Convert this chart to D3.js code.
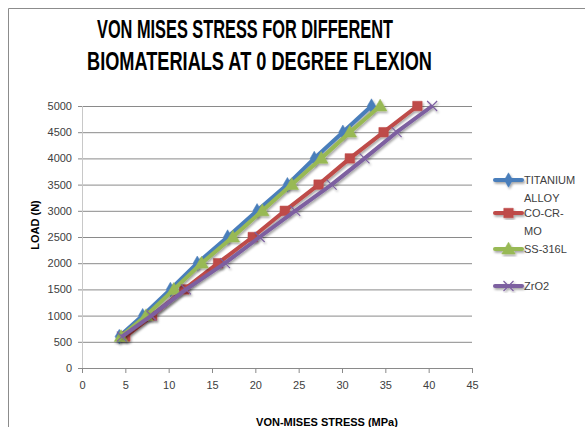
<!DOCTYPE html>
<html><head><meta charset="utf-8">
<script src="https://cdn.jsdelivr.net/npm/d3@7/dist/d3.min.js"></script>
<style>body{margin:0;background:#fff}svg{display:block}</style>
</head><body>
<script>
const loads = [600, 1000, 1500, 2000, 2500, 3000, 3500, 4000, 4500, 5000];
const titanium = [4.3, 7.0, 10.2, 13.3, 16.8, 20.2, 23.7, 26.8, 30.1, 33.4];
const cocrmo   = [5.0, 8.1, 11.8, 15.7, 19.7, 23.4, 27.3, 30.9, 34.8, 38.7];
const ss316l   = [4.5, 7.4, 10.6, 13.8, 17.4, 20.8, 24.2, 27.6, 30.9, 34.4];
const zro2     = [4.6, 8.0, 12.0, 16.5, 20.5, 24.6, 28.8, 32.6, 36.3, 40.4];
const seriesNames = [["TITANIUM","ALLOY"],["CO-CR-","MO"],["SS-316L"],["ZrO2"]];
const xTicks = [0,5,10,15,20,25,30,35,40,45];
const yTicks = [0,500,1000,1500,2000,2500,3000,3500,4000,4500,5000];
const titleLines = ["VON MISES STRESS FOR DIFFERENT","BIOMATERIALS AT 0 DEGREE FLEXION"];

const W=585,H=427;
const svg=d3.select("body").append("svg").attr("width",W).attr("height",H);
const defs=svg.append("defs");
const f=defs.append("filter").attr("id","sh").attr("x","-20%").attr("y","-20%").attr("width","140%").attr("height","140%");
f.append("feDropShadow").attr("dx",1.2).attr("dy",1.8).attr("stdDeviation",1.2).attr("flood-color","#000").attr("flood-opacity",0.35);

// outer frame
svg.append("path").attr("d","M8.5,430 V8.5 H590").attr("fill","none").attr("stroke","#8c8c8c").attr("stroke-width",1);

const x=d3.scaleLinear().domain([0,45]).range([82,472]);
const y=d3.scaleLinear().domain([0,5000]).range([368,106]);

// gridlines
const gy=svg.append("g").attr("transform","translate(82,0)")
  .call(d3.axisLeft(y).tickValues(yTicks).tickSize(-390).tickSizeOuter(0).tickPadding(9).tickFormat(d3.format("d")));
gy.select(".domain").remove();
gy.selectAll(".tick line").attr("stroke","#8a8a8a").attr("x2",390).attr("x1",-4);
gy.selectAll(".tick text").attr("font-family","Liberation Sans, Arial, sans-serif").attr("font-size",11).attr("fill","#404040").attr("x",-10);
svg.append("line").attr("x1",82.5).attr("x2",82.5).attr("y1",106).attr("y2",368).attr("stroke","#c8c8c8");

const gx=svg.append("g").attr("transform","translate(0,368)")
  .call(d3.axisBottom(x).tickValues(xTicks).tickSize(5).tickSizeOuter(0).tickPadding(8));
gx.select(".domain").attr("stroke","#8a8a8a");
gx.selectAll(".tick line").attr("stroke","#8a8a8a");
gx.selectAll(".tick text").attr("font-family","Liberation Sans, Arial, sans-serif").attr("font-size",11).attr("fill","#404040");

// titles
const tl=svg.append("g");
tl.append("text").attr("x",97).attr("y",38)
  .attr("font-family","Liberation Sans Narrow, Liberation Sans, Arial, sans-serif").attr("font-weight","bold").attr("font-size",25)
  .attr("textLength",296).attr("lengthAdjust","spacingAndGlyphs").text(titleLines[0]);
tl.append("text").attr("x",87).attr("y",70)
  .attr("font-family","Liberation Sans Narrow, Liberation Sans, Arial, sans-serif").attr("font-weight","bold").attr("font-size",25)
  .attr("textLength",345).attr("lengthAdjust","spacingAndGlyphs").text(titleLines[1]);

svg.append("text").attr("transform","translate(39,225) rotate(-90)").attr("text-anchor","middle")
  .attr("font-family","Liberation Sans, Arial, sans-serif").attr("font-weight","bold").attr("font-size",11).text("LOAD (N)");
svg.append("text").attr("x",327).attr("y",426).attr("text-anchor","middle")
  .attr("font-family","Liberation Sans, Arial, sans-serif").attr("font-weight","bold").attr("font-size",11).text("VON-MISES STRESS (MPa)");

const colors=["#4a7ebb","#be4b48","#98b954","#7d60a0"];
const data=[titanium,cocrmo,ss316l,zro2];
const line=d3.line().x(d=>x(d[0])).y(d=>y(d[1]));

function marker(g,i,cx,cy){
  if(i===3){
    const s=5;
    g.append("path").attr("d",`M${cx-s},${cy-s}L${cx+s},${cy+s}M${cx-s},${cy+s}L${cx+s},${cy-s}`)
      .attr("stroke",colors[i]).attr("stroke-width",1.2).attr("fill","none");
  } else if(i===0){
    g.append("path").attr("transform",`translate(${cx},${cy})`).attr("d",d3.symbol(d3.symbolDiamond,60)())
      .attr("fill",colors[i]).attr("stroke",colors[i]).attr("stroke-width",0.5);
  } else if(i===1){
    g.append("path").attr("transform",`translate(${cx},${cy})`).attr("d",d3.symbol(d3.symbolSquare,90)())
      .attr("fill",colors[i]).attr("stroke",colors[i]).attr("stroke-width",0.5);
  } else {
    g.append("path").attr("transform",`translate(${cx},${cy+1})`).attr("d",d3.symbol(d3.symbolTriangle,80)())
      .attr("fill",colors[i]).attr("stroke",colors[i]).attr("stroke-width",0.5);
  }
}

data.forEach((vals,i)=>{
  const pts=vals.map((v,j)=>[v,loads[j]]);
  const g=svg.append("g").attr("filter","url(#sh)");
  g.append("path").attr("d",line(pts)).attr("fill","none").attr("stroke",colors[i]).attr("stroke-width",4).attr("stroke-linejoin","round");
  pts.forEach(p=>marker(g,i,x(p[0]),y(p[1])));
});

// legend
const legY=[180,213,249,286];
seriesNames.forEach((nm,i)=>{
  const g=svg.append("g").attr("filter","url(#sh)");
  g.append("line").attr("x1",495).attr("x2",522).attr("y1",legY[i]).attr("y2",legY[i]).attr("stroke",colors[i]).attr("stroke-width",4).attr("stroke-linecap","round");
  marker(g,i,508.5,legY[i]);
  nm.forEach((t,k)=>{
    svg.append("text").attr("x",524).attr("y",legY[i]+4+k*18).attr("font-family","Liberation Sans, Arial, sans-serif").attr("font-size",11).attr("fill","#404040").text(t);
  });
});
</script>
</body></html>
